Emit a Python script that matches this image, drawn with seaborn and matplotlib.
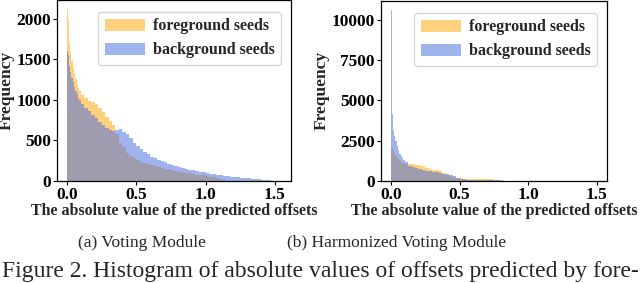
import numpy as np
import pandas as pd
import matplotlib
matplotlib.use("Agg")
import matplotlib.pyplot as plt
from matplotlib.patches import Patch
import seaborn as sns

# ---------------- data ----------------
bin_edges = [0.0, 0.01, 0.013, 0.016, 0.02, 0.03, 0.04, 0.05, 0.06, 0.07, 0.08, 0.09, 0.10,
             0.125, 0.15, 0.175, 0.2, 0.225, 0.25, 0.275, 0.3, 0.325, 0.35, 0.375, 0.4,
             0.425, 0.45, 0.475, 0.5, 0.525, 0.55, 0.575, 0.6, 0.625, 0.65, 0.675, 0.7,
             0.725, 0.75, 0.775, 0.8, 0.825, 0.85, 0.875, 0.9, 0.925, 0.95, 0.975, 1.0,
             1.025, 1.05, 1.075, 1.1, 1.125, 1.15, 1.175, 1.2, 1.225, 1.25, 1.275, 1.3,
             1.325, 1.35, 1.375, 1.4, 1.425, 1.45, 1.475, 1.5]

# (a) Voting Module
a_foreground = [2120, 1980, 1840, 1720, 1600, 1480, 1400, 1320, 1260, 1200, 1150, 1110,
                1060, 1020, 990, 975, 950, 900, 850, 790, 740, 690, 580, 470,
                420, 350, 310, 280, 260, 240, 225, 205, 195, 180, 170, 160,
                150, 145, 135, 125, 115, 110, 100, 95, 90, 80, 75, 68,
                60, 55, 48, 40, 25, 12, 5, 0, 0, 0, 0, 0,
                0, 0, 0, 0, 0, 0, 0, 0]
a_background = [1600, 1560, 1480, 1420, 1340, 1270, 1220, 1160, 1110, 1070, 1030, 1000,
                950, 900, 860, 820, 780, 730, 690, 660, 630, 615, 625, 640,
                610, 575, 530, 470, 430, 390, 360, 330, 300, 280, 260, 245,
                230, 215, 200, 185, 172, 160, 150, 140, 130, 120, 112, 105,
                98, 92, 85, 78, 72, 66, 60, 55, 50, 45, 40, 36,
                32, 28, 25, 22, 18, 14, 10, 5]

# (b) Harmonized Voting Module
b_foreground = [2120, 2050, 1950, 1860, 1760, 1600, 1460, 1350, 1260, 1190, 1130, 1100,
                1070, 1050, 1040, 1010, 970, 900, 830, 770, 710, 660, 600, 470,
                380, 290, 230, 190, 165, 150, 140, 130, 120, 115, 110, 105,
                100, 95, 85, 70, 40, 15, 5, 0, 0, 0, 0, 0,
                0, 0, 0, 0, 0, 0, 0, 0, 0, 0, 0, 0,
                0, 0, 0, 0, 0, 0, 0, 0]
b_background = [10600, 4150, 3500, 3150, 2800, 2450, 2150, 1900, 1700, 1550, 1420, 1320,
                1150, 960, 870, 800, 750, 700, 650, 610, 570, 530, 490, 460,
                420, 360, 290, 210, 140, 100, 80, 68, 60, 55, 50, 46,
                42, 38, 35, 32, 30, 27, 25, 22, 20, 17, 15, 12,
                10, 8, 6, 5, 4, 3, 2, 0, 0, 0, 0, 0,
                0, 0, 0, 0, 0, 0, 0, 0]

series_labels = ["foreground seeds", "background seeds"]
x_ticks = [0.0, 0.5, 1.0, 1.5]
a_yticks = [0, 500, 1000, 1500, 2000]
b_yticks = [0, 2500, 5000, 7500, 10000]
x_label = "The absolute value of the predicted offsets"
y_label = "Frequency"
sub_captions = ["(a) Voting Module", "(b) Harmonized Voting Module"]
caption = "Figure 2. Histogram of absolute values of offsets predicted by fore-"

# ---------------- drawing ----------------
sns.set_style("ticks")
plt.rcParams["font.family"] = ["Liberation Serif", "DejaVu Serif"]

FG = "orange"
BG = "royalblue"
ALPHA = 0.5

bin_mid = [(bin_edges[i] + bin_edges[i + 1]) / 2 for i in range(len(bin_edges) - 1)]

W, H = 640, 283
fig = plt.figure(figsize=(W / 100, H / 100), dpi=100)


def px_axes(left, right, top, bottom):
    return fig.add_axes([left / W, 1 - bottom / H, (right - left) / W, (bottom - top) / H])


def draw(ax, fg, bg, yticks, xlim, ylim):
    df = pd.DataFrame({"x": bin_mid, "fg": fg, "bg": bg})
    sns.histplot(data=df, x="x", weights="fg", bins=bin_edges, element="step",
                 color=FG, alpha=ALPHA, linewidth=0, ax=ax)
    sns.histplot(data=df, x="x", weights="bg", bins=bin_edges, element="step",
                 color=BG, alpha=ALPHA, linewidth=0, ax=ax)
    ax.set_xlim(*xlim)
    ax.set_ylim(*ylim)
    ax.set_xticks(x_ticks)
    ax.set_xticklabels([f"{t:.1f}" for t in x_ticks], fontweight="bold", fontsize=12.5)
    ax.set_yticks(yticks)
    ax.set_yticklabels([str(t) for t in yticks], fontweight="bold", fontsize=12.5)
    ax.tick_params(length=3, width=0.8, pad=1.5, colors="black")
    ax.set_xlabel(x_label, fontweight="bold", fontsize=11.5, labelpad=0)
    ax.set_ylabel(y_label, fontweight="bold", fontsize=12.5, labelpad=1)
    for s in ax.spines.values():
        s.set_visible(True)
        s.set_linewidth(0.9)
        s.set_color("black")
    handles = [Patch(facecolor=FG, alpha=ALPHA, edgecolor="none"),
               Patch(facecolor=BG, alpha=ALPHA, edgecolor="none")]
    ax.legend(handles, series_labels, loc="upper right", prop={"weight": "bold", "size": 11.5},
              handlelength=2.5, handleheight=0.75, handletextpad=0.5, borderpad=0.4,
              labelspacing=0.5, framealpha=0.8, bbox_to_anchor=(0.99, 0.975))


ax_a = px_axes(57, 291, -0.5, 181)
draw(ax_a, a_foreground, a_background, a_yticks, (-0.072, 1.616), (0, 2240))

ax_b = px_axes(381, 607, 0.5, 181)
draw(ax_b, b_foreground, b_background, b_yticks, (-0.073, 1.574), (0, 11190))

fig.text(142 / W, 1 - 243 / H, sub_captions[0], ha="center", va="center", fontsize=12.5)
fig.text(397 / W, 1 - 243 / H, sub_captions[1], ha="center", va="center", fontsize=12.5)
fig.text(320 / W, 1 - 272 / H, caption, ha="center", va="center", fontsize=17)

fig.savefig("out.png", dpi=100)
